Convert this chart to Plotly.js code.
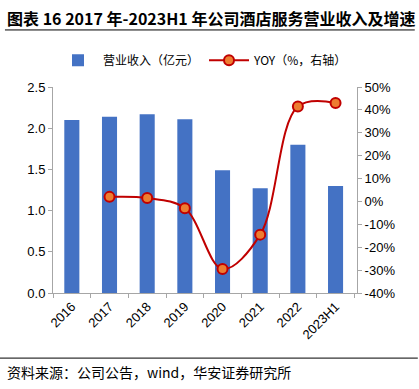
<!DOCTYPE html>
<html><head><meta charset="utf-8">
<script src="https://cdn.plot.ly/plotly-3.0.1.min.js"></script>
<style>body{margin:0;background:#fff}#c{width:419px;height:389px}</style>
</head><body><div id="c"></div>
<script>
const categories = ["2016","2017","2018","2019","2020","2021","2022","2023H1"];
const revenue = [2.10, 2.14, 2.17, 2.11, 1.49, 1.27, 1.80, 1.30];
const yoyCats = ["2017","2018","2019","2020","2021","2022","2023H1"];
const yoy = [2.0, 1.5, -3.0, -29.5, -14.5, 41.5, 43.0];
const leftTicks = [0, 0.5, 1.0, 1.5, 2.0, 2.5];
const leftTickText = ["0.0","0.5","1.0","1.5","2.0","2.5"];
const rightTicks = [-40,-30,-20,-10,0,10,20,30,40,50];
const rightTickText = rightTicks.map(v => v + "%");

const font = "Liberation Sans, Arial, sans-serif";
const cjk = "Noto Sans CJK SC, sans-serif";

const traces = [
  {type:"bar", x:categories, y:revenue, name:"营业收入（亿元）",
   marker:{color:"#4472C4"}, width:0.4, yaxis:"y"},
  {type:"scatter", mode:"lines+markers", x:yoyCats, y:yoy, name:"YOY（%，右轴）",
   line:{color:"#C00000", width:2, shape:"spline", smoothing:1},
   marker:{color:"#ED7D31", size:10, line:{color:"#C00000", width:2}}, yaxis:"y2"}
];

const layout = {
  width:419, height:389,
  margin:{l:53, r:62, t:87, b:96},
  paper_bgcolor:"#fff", plot_bgcolor:"#fff",
  font:{family:font, size:13, color:"#000"},
  showlegend:true,
  legend:{orientation:"h", x:0.0, y:1.13, xanchor:"left", yanchor:"middle",
    font:{family:cjk, size:12}, traceorder:"normal", itemwidth:40},
  xaxis:{type:"category", showline:true, linecolor:"#a6a6a6", linewidth:1,
    ticks:"outside", tickson:"boundaries", ticklen:4, tickcolor:"#a6a6a6",
    tickangle:-45, tickfont:{family:font, size:13}, showgrid:false, zeroline:false},
  yaxis:{range:[0,2.5], tickvals:leftTicks, ticktext:leftTickText,
    showline:true, linecolor:"#a6a6a6", ticks:"outside", ticklen:4, tickcolor:"#a6a6a6",
    showgrid:false, zeroline:false, tickfont:{family:font, size:13}},
  yaxis2:{range:[-40,50], overlaying:"y", side:"right", tickvals:rightTicks, ticktext:rightTickText,
    showline:true, linecolor:"#a6a6a6", ticks:"outside", ticklen:4, tickcolor:"#a6a6a6",
    showgrid:false, zeroline:false, tickfont:{family:font, size:13}},
  shapes:[
    {type:"line", xref:"paper", yref:"paper", x0:-0.158, x1:1.19, y0:1.277, y1:1.277,
     line:{color:"#000", width:1}},
    {type:"line", xref:"paper", yref:"paper", x0:-0.175, x1:1.20, y0:-0.316, y1:-0.316,
     line:{color:"#000", width:1}}
  ],
  annotations:[
    {xref:"paper", yref:"paper", x:-0.158, y:1.337, xanchor:"left", yanchor:"middle",
     showarrow:false, text:"<b>图表 16 2017 年-2023H1 年公司酒店服务营业收入及增速</b>",
     font:{family:cjk, size:16, color:"#000"}},
    {xref:"paper", yref:"paper", x:-0.158, y:-0.383, xanchor:"left", yanchor:"middle",
     showarrow:false, text:"资料来源：公司公告，wind，华安证券研究所",
     font:{family:cjk, size:14, color:"#000"}}
  ]
};
Plotly.newPlot("c", traces, layout, {displayModeBar:false, staticPlot:true});
</script></body></html>
